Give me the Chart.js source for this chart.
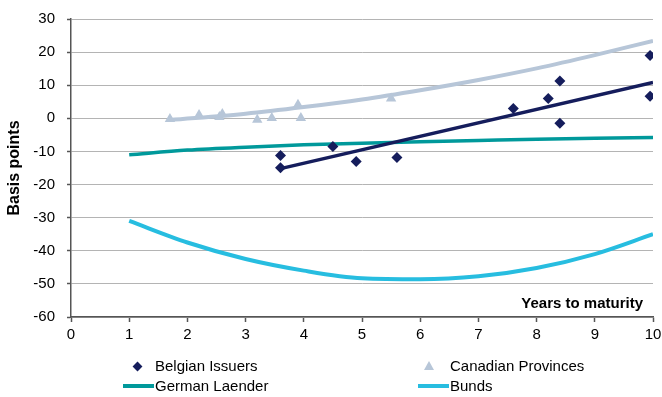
<!DOCTYPE html>
<html>
<head>
<meta charset="utf-8">
<script src="https://cdn.jsdelivr.net/npm/chart.js@4.4.1/dist/chart.umd.min.js"></script>
<style>
    body { margin: 0; background: #fff; }
    #wrap { position: relative; width: 662px; height: 397px; font-family: "Liberation Sans", Arial, sans-serif; }
    #legend { position: absolute; left: 0; top: 0; width: 662px; height: 397px; pointer-events: none; }
    .item { position: absolute; font-size: 15px; color: #000; line-height: 18px; white-space: nowrap; }
    .mark { position: absolute; }
</style>
</head>
<body>
<div id="wrap">
    <canvas id="spreadChart" width="662" height="397"></canvas>
    <div id="legend"></div>
</div>
<script>
// years to maturity used by the fitted curves
const curveYears = [1, 2, 3, 4, 5, 6, 7, 8, 9, 10];

// Belgian issuers (scatter)
const belgianYears = [3.6, 3.6, 4.5, 4.9, 5.6, 7.6, 8.2, 8.4, 8.4, 9.95, 9.95];
const belgianBp = [-11.2, -14.9, -8.5, -13, -11.8, 3, 6, 11.3, -1.5, 19, 6.7];
const belgianTrendYears = [3.6, 10];
const belgianTrendBp = [-15.2, 10.8];

// Canadian provinces (scatter)
const canadianYears = [1.7, 2.2, 2.55, 2.6, 3.2, 3.45, 3.9, 3.95, 5.5];
const canadianBp = [-0.2, 1.0, 0.4, 1.3, -0.4, 0.1, 4.1, 0.1, 6.0];
const canadianTrendYears = [1.7, 3, 4, 5, 6, 7, 8, 9, 10];
const canadianTrendBp = [-0.5, 1.4, 3.4, 5.7, 8.5, 11.6, 15.1, 19.1, 23.4];

// curves
const laenderBp = [-11, -9.6, -8.7, -8.0, -7.5, -7.1, -6.7, -6.3, -6.0, -5.8];
const bundsBp = [-31, -37.5, -42.5, -46, -48.3, -48.6, -47.7, -45.2, -41, -35];

const xTicks = [0, 1, 2, 3, 4, 5, 6, 7, 8, 9, 10];
const yTicks = [30, 20, 10, 0, -10, -20, -30, -40, -50, -60];

const colors = {
    belgian: '#151d5c',
    canadian: '#b7c6d8',
    laender: '#00999b',
    bunds: '#27bde0'
};

const pts = (xs, ys) => xs.map((x, i) => ({ x: x, y: ys[i] }));

const axisFont = { family: '"Liberation Sans", Arial, sans-serif', size: 15 };

const insideLabel = {
    id: 'insideLabel',
    afterDraw(chart) {
        const { ctx, chartArea } = chart;
        ctx.save();
        ctx.font = 'bold 15px "Liberation Sans", Arial, sans-serif';
        ctx.fillStyle = '#000';
        ctx.textAlign = 'right';
        ctx.textBaseline = 'middle';
        ctx.fillText('Years to maturity', chartArea.right - 10, chartArea.bottom - 13);
        ctx.restore();
    }
};

new Chart(document.getElementById('spreadChart'), {
    type: 'scatter',
    data: {
        datasets: [
            {
                label: 'Bunds', type: 'line', data: pts(curveYears, bundsBp),
                borderColor: colors.bunds, borderWidth: 4, pointRadius: 0,
                cubicInterpolationMode: 'monotone', fill: false, order: 5
            },
            {
                label: 'German Laender', type: 'line', data: pts(curveYears, laenderBp),
                borderColor: colors.laender, borderWidth: 3.5, pointRadius: 0,
                cubicInterpolationMode: 'monotone', fill: false, order: 4
            },
            {
                label: 'Canadian trend', type: 'line', data: pts(canadianTrendYears, canadianTrendBp),
                borderColor: colors.canadian, borderWidth: 4, pointRadius: 0,
                cubicInterpolationMode: 'monotone', fill: false, order: 3
            },
            {
                label: 'Belgian trend', type: 'line', data: pts(belgianTrendYears, belgianTrendBp),
                borderColor: colors.belgian, borderWidth: 3.5, pointRadius: 0,
                fill: false, order: 2
            },
            {
                label: 'Canadian Provinces', data: pts(canadianYears, canadianBp),
                pointStyle: 'triangle', pointRadius: 6, backgroundColor: colors.canadian,
                borderColor: colors.canadian, borderWidth: 0, order: 1
            },
            {
                label: 'Belgian Issuers', data: pts(belgianYears, belgianBp),
                pointStyle: 'rectRot', pointRadius: 5.5, backgroundColor: colors.belgian,
                borderColor: colors.belgian, borderWidth: 0, order: 0
            }
        ]
    },
    options: {
        responsive: false,
        animation: false,
        layout: { padding: { left: 0, right: 9, top: 19, bottom: 50 } },
        plugins: { legend: { display: false }, tooltip: { enabled: false } },
        scales: {
            x: {
                type: 'linear', min: 0, max: 10,
                afterBuildTicks: s => { s.ticks = xTicks.map(v => ({ value: v })); },
                afterFit: s => { s.height = 30; s.paddingLeft = 0; s.paddingRight = 0; },
                ticks: { font: axisFont, color: '#000', padding: 4, maxRotation: 0 },
                grid: { drawOnChartArea: false, drawTicks: true, tickLength: 5, tickColor: '#555', tickWidth: 1.5 },
                border: { color: '#555', width: 1.5 }
            },
            y: {
                min: -60, max: 30,
                afterBuildTicks: s => { s.ticks = yTicks.map(v => ({ value: v })); },
                afterFit: s => { s.width = 71; s.paddingTop = 0; s.paddingBottom = 0; },
                ticks: { font: axisFont, color: '#000', padding: 12 },
                grid: {
                    color: '#b4b4b4', borderDash: [4, 3], lineWidth: 1,
                    drawTicks: true, tickLength: 4, tickColor: '#555', tickBorderDash: [], tickWidth: 1.5
                },
                border: { color: '#555', width: 1.5 },
                title: {
                    display: true, text: 'Basis points', color: '#000',
                    font: { family: axisFont.family, size: 16, weight: 'bold' },
                    padding: { top: 5, bottom: 0 }
                }
            }
        }
    },
    plugins: [insideLabel]
});

// legend laid out in two columns like the original
const legendItems = [
    { label: 'Belgian Issuers', kind: 'diamond', color: colors.belgian, left: 155, top: 357 },
    { label: 'Canadian Provinces', kind: 'triangle', color: colors.canadian, left: 450, top: 357 },
    { label: 'German Laender', kind: 'line', color: colors.laender, left: 155, top: 377 },
    { label: 'Bunds', kind: 'line', color: colors.bunds, left: 450, top: 377 }
];

const legend = document.getElementById('legend');
legendItems.forEach(item => {
    const text = document.createElement('div');
    text.className = 'item';
    text.style.left = item.left + 'px';
    text.style.top = item.top + 'px';
    text.textContent = item.label;
    legend.appendChild(text);

    const mark = document.createElement('div');
    mark.className = 'mark';
    const cy = item.top + 9;
    if (item.kind === 'diamond') {
        mark.style.cssText += `left:${item.left - 21}px;top:${cy - 3.5}px;width:7px;height:7px;background:${item.color};transform:rotate(45deg);`;
    } else if (item.kind === 'triangle') {
        mark.style.cssText += `left:${item.left - 26}px;top:${cy - 5}px;width:0;height:0;border-left:5px solid transparent;border-right:5px solid transparent;border-bottom:9px solid ${item.color};`;
    } else {
        mark.style.cssText += `left:${item.left - 32}px;top:${cy - 2}px;width:31px;height:4px;background:${item.color};`;
    }
    legend.appendChild(mark);
});
</script>
</body>
</html>
